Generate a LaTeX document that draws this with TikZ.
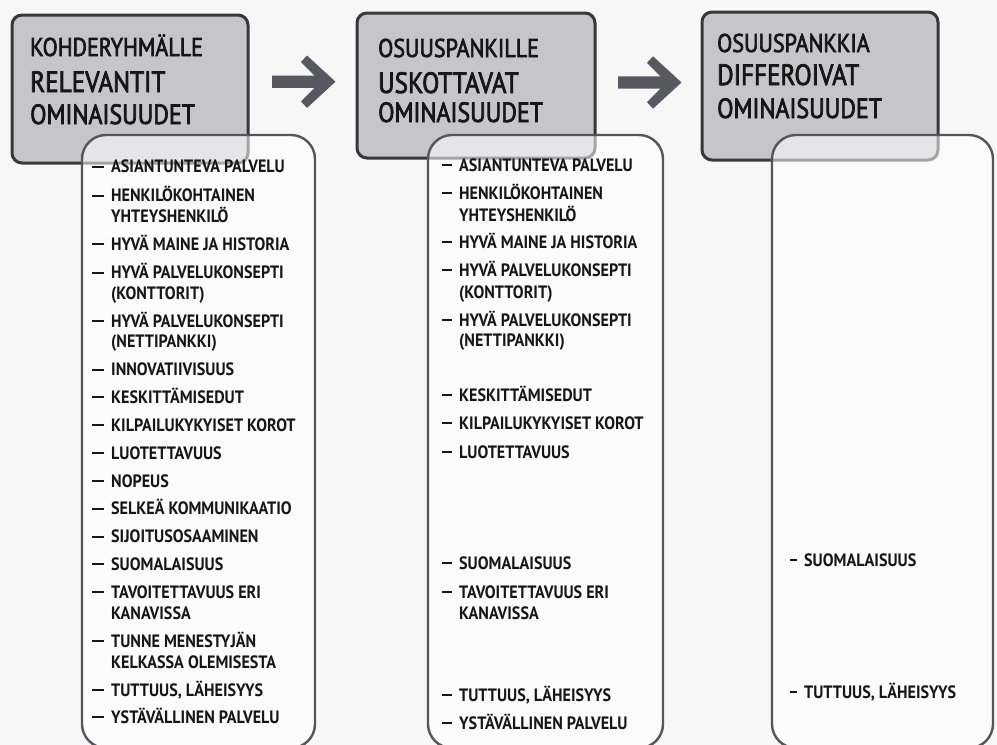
\documentclass[tikz,border=0pt]{standalone}
\usepackage{fontspec}
\newfontfamily\hfont[FakeStretch=0.86,FakeBold=2.5]{PT Sans}
\newfontfamily\lfont[FakeStretch=0.9]{PT Sans}
\usetikzlibrary{calc}
\definecolor{bgc}{RGB}{247,247,247}
\definecolor{hfill}{RGB}{198,198,202}
\definecolor{hline}{RGB}{55,55,60}
\definecolor{lline}{RGB}{85,85,90}
\definecolor{arrc}{RGB}{88,88,96}
\definecolor{txt}{RGB}{22,22,22}
\tikzset{
  hbox/.style={draw=hline, line width=3pt, fill=hfill, rounded corners=10pt, inner sep=0pt},
  lbox/.style={draw=lline, line width=2.4pt, fill=white, fill opacity=0.55, draw opacity=1, rounded corners=24pt, inner sep=0pt},
  htxtA/.style={anchor=base west, inner sep=0pt, text=txt, font=\hfont\fontsize{25.7}{30}\selectfont},
  htxtB/.style={anchor=base west, inner sep=0pt, text=txt, font=\hfont\fontsize{29.3}{34}\selectfont},
  htxtC/.style={anchor=base west, inner sep=0pt, text=txt, font=\hfont\fontsize{27.8}{32}\selectfont},
  ltxt/.style={anchor=base west, inner sep=0pt, text=txt, font=\lfont\bfseries\fontsize{17.9}{21}\selectfont},
  idash/.style={draw=txt, line width=2pt},
  arrowshape/.style={fill=arrc},
}
% list item: [dash offset]{name}{x text}{y baseline}{text}
\newcommand\li[5][19]{%
  \node[ltxt] (#2) at (#3,#4) {#5};
  \draw[idash] ($(#2.base west)+(-#1,-6.3)$) -- ++({#1-7},0);}
% continuation line
\newcommand\lc[4]{\node[ltxt] (#1) at (#2,#3) {#4};}
% arrow shape
\newcommand\bigarrow[1]{%
  \fill[arrowshape] ($(#1)+(0,-6.2)$) -- ++(42.5,0) -- ++(-13.5,-13.5) -- ++(6,-6.5)
    -- ($(#1)+(63.5,0)$) -- ($(#1)+(35,26.2)$) -- ++(-6,-6.5) -- ++(13.5,-13.5)
    -- ($(#1)+(0,6.2)$) -- cycle;}
\begin{document}
\begin{tikzpicture}[x=1pt,y=-1pt]
\useasboundingbox (0,0) rectangle (997,745);
\fill[bgc] (0,0) rectangle (997,745);

% header boxes
\node[hbox, minimum width=236pt, minimum height=148pt] (h1) at (130,89) {};
\node[hbox, minimum width=238pt, minimum height=145pt] (h2) at (476,85.5) {};
\node[hbox, minimum width=236pt, minimum height=148pt] (h3) at (820,86) {};

% arrows
\coordinate (a1) at (272,81.7);
\coordinate (a2) at (618,82.5);
\bigarrow{a1}
\bigarrow{a2}

% list boxes
\node[lbox, minimum width=233pt, minimum height=613pt] (l1) at (198.5,441.5) {};
\node[lbox, minimum width=235pt, minimum height=613pt] (l2) at (545.5,441.5) {};
\node[lbox, minimum width=221pt, minimum height=613pt] (l3) at (882.5,441.5) {};

% header texts
\node[htxtA] (h1a) at (30,56) {KOHDERYHMÄLLE};
\node[htxtB] (h1b) at (30,92) {RELEVANTIT};
\node[htxtC] (h1c) at (30,124) {OMINAISUUDET};
\node[htxtA] (h2a) at (378,57) {OSUUSPANKILLE};
\node[htxtB] (h2b) at (378,93) {USKOTTAVAT};
\node[htxtC] (h2c) at (378,122) {OMINAISUUDET};
\node[htxtA] (h3a) at (717,52) {OSUUSPANKKIA};
\node[htxtB] (h3b) at (717,85) {DIFFEROIVAT};
\node[htxtC] (h3c) at (717,118) {OMINAISUUDET};

% list 1
\li{p1}{111}{172.8}{ASIANTUNTEVA PALVELU}
\li{p2}{111}{201.8}{HENKILÖKOHTAINEN}
\lc{p2b}{111}{222.8}{YHTEYSHENKILÖ}
\li{p3}{111}{250.3}{HYVÄ MAINE JA HISTORIA}
\li{p4}{111}{278.8}{HYVÄ PALVELUKONSEPTI}
\lc{p4b}{111}{299.3}{(KONTTORIT)}
\li{p5}{111}{327.3}{HYVÄ PALVELUKONSEPTI}
\lc{p5b}{111}{347.8}{(NETTIPANKKI)}
\li{p6}{111}{375.8}{INNOVATIIVISUUS}
\li{p7}{111}{403.3}{KESKITTÄMISEDUT}
\li{p8}{111}{431.3}{KILPAILUKYKYISET KOROT}
\li{p9}{111}{459.3}{LUOTETTAVUUS}
\li{p10}{111}{487.3}{NOPEUS}
\li{p11}{111}{514.8}{SELKEÄ KOMMUNIKAATIO}
\li{p12}{111}{542.8}{SIJOITUSOSAAMINEN}
\li{p13}{111}{570.3}{SUOMALAISUUS}
\li{p14}{111}{598.3}{TAVOITETTAVUUS ERI}
\lc{p14b}{111}{619.3}{KANAVISSA}
\li{p15}{111}{647.3}{TUNNE MENESTYJÄN}
\lc{p15b}{111}{668.3}{KELKASSA OLEMISESTA}
\li{p16}{111}{696.3}{TUTTUUS, LÄHEISYYS}
\li{p17}{111}{723.3}{YSTÄVÄLLINEN PALVELU}

% list 2
\li[17]{q1}{459}{171.3}{ASIANTUNTEVA PALVELU}
\li[17]{q2}{459}{199.3}{HENKILÖKOHTAINEN}
\lc{q2b}{459}{221.3}{YHTEYSHENKILÖ}
\li[17]{q3}{459}{248}{HYVÄ MAINE JA HISTORIA}
\li[17]{q4}{459}{276.3}{HYVÄ PALVELUKONSEPTI}
\lc{q4b}{459}{298}{(KONTTORIT)}
\li[17]{q5}{459}{326.3}{HYVÄ PALVELUKONSEPTI}
\lc{q5b}{459}{346.3}{(NETTIPANKKI)}
\li[17]{q7}{459}{401.3}{KESKITTÄMISEDUT}
\li[17]{q8}{459}{429}{KILPAILUKYKYISET KOROT}
\li[17]{q9}{459}{458}{LUOTETTAVUUS}
\li[17]{q13}{459}{569}{SUOMALAISUUS}
\li[17]{q14}{459}{598}{TAVOITETTAVUUS ERI}
\lc{q14b}{459}{619}{KANAVISSA}
\li[17]{q16}{459}{701.3}{TUTTUUS, LÄHEISYYS}
\li[17]{q17}{459}{729}{YSTÄVÄLLINEN PALVELU}

% list 3
\li[14]{r13}{804}{566.3}{SUOMALAISUUS}
\li[14]{r16}{804}{698}{TUTTUUS, LÄHEISYYS}
\end{tikzpicture}
\end{document}
